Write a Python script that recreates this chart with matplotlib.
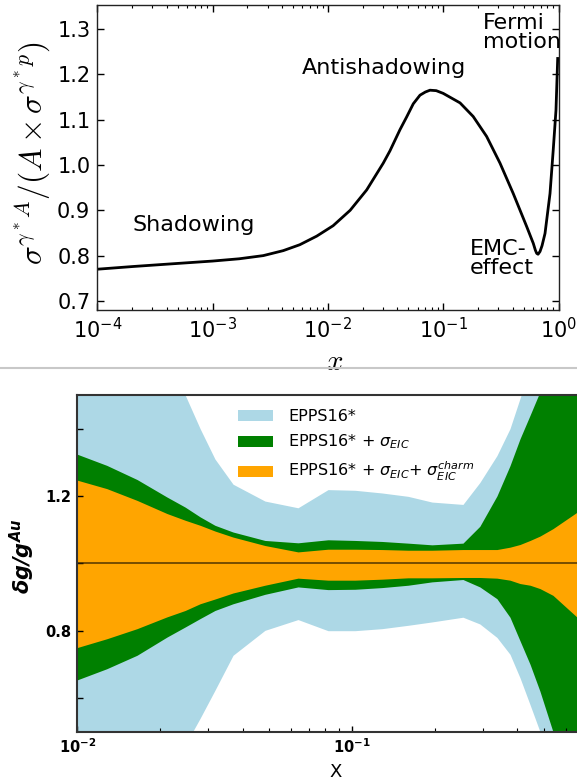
import matplotlib
matplotlib.use('Agg')
import matplotlib.pyplot as plt
from matplotlib.lines import Line2D

# ---------------- top panel data ----------------
x_ratio = [1e-4, 2.05e-4, 4.5e-4, 1e-3, 1.7e-3, 2.75e-3, 4.1e-3, 5.7e-3, 8.0e-3,
           0.0111, 0.0156, 0.0217, 0.0302, 0.0345, 0.0422, 0.0482, 0.055, 0.0629,
           0.070, 0.0768, 0.087, 0.100, 0.140, 0.182, 0.238, 0.311, 0.405, 0.530,
           0.6045, 0.630, 0.647, 0.665, 0.691, 0.720, 0.764, 0.844, 0.900, 0.951, 0.984]
ratio = [0.770, 0.776, 0.782, 0.788, 0.793, 0.800, 0.811, 0.824, 0.843,
         0.866, 0.900, 0.945, 1.004, 1.031, 1.078, 1.106, 1.135, 1.154,
         1.161, 1.165, 1.164, 1.158, 1.137, 1.107, 1.063, 1.004, 0.937, 0.864,
         0.827, 0.812, 0.805, 0.803, 0.809, 0.822, 0.849, 0.937, 1.033, 1.121, 1.235]
ratio_yticks = [0.7, 0.8, 0.9, 1.0, 1.1, 1.2, 1.3]

# ---------------- bottom panel data ----------------
x_band = [0.0100, 0.0128, 0.0165, 0.0212, 0.0247, 0.0280, 0.0317, 0.0369, 0.0482,
          0.0636, 0.0818, 0.1025, 0.1286, 0.160, 0.1955, 0.2535, 0.292, 0.337,
          0.376, 0.409, 0.445, 0.4835, 0.539, 0.66]
epps_hi = [1.9, 1.8, 1.7, 1.6, 1.50, 1.40, 1.31, 1.235, 1.185, 1.165, 1.219, 1.217,
           1.209, 1.199, 1.182, 1.175, 1.24, 1.32, 1.40, 1.49, 1.58, 1.66, 1.76, 1.95]
epps_lo = [0.10, 0.20, 0.30, 0.40, 0.46, 0.54, 0.623, 0.727, 0.801, 0.833, 0.80, 0.80,
           0.806, 0.816, 0.826, 0.840, 0.82, 0.78, 0.73, 0.66, 0.58, 0.50, 0.35, 0.10]
eic_hi = [1.324, 1.291, 1.249, 1.197, 1.167, 1.138, 1.113, 1.093, 1.068, 1.061, 1.070,
          1.068, 1.065, 1.060, 1.055, 1.060, 1.11, 1.20, 1.29, 1.37, 1.44, 1.51, 1.62, 1.80]
eic_lo = [0.654, 0.687, 0.727, 0.781, 0.811, 0.836, 0.860, 0.880, 0.908, 0.930, 0.922,
          0.923, 0.928, 0.935, 0.945, 0.952, 0.93, 0.895, 0.84, 0.77, 0.70, 0.62, 0.50, 0.30]
charm_hi = [1.247, 1.222, 1.187, 1.148, 1.128, 1.113, 1.096, 1.078, 1.053, 1.034, 1.042,
            1.042, 1.041, 1.039, 1.039, 1.041, 1.041, 1.041, 1.048, 1.056, 1.068, 1.081,
            1.103, 1.152]
charm_lo = [0.750, 0.776, 0.806, 0.841, 0.860, 0.880, 0.894, 0.912, 0.935, 0.956, 0.950,
            0.950, 0.953, 0.957, 0.957, 0.958, 0.958, 0.956, 0.950, 0.940, 0.935, 0.925,
            0.905, 0.840]
band_labels = ['EPPS16*',
               r'EPPS16* + $\sigma_{EIC}$',
               r'EPPS16* + $\sigma_{EIC}$+ $\sigma_{EIC}^{charm}$']
band_yticks = [0.6, 0.8, 1.0, 1.2, 1.4]
band_yticklabels = ['', '0.8', '', '1.2', '']

plt.rcParams['font.family'] = ['DejaVu Sans']
plt.rcParams['mathtext.fontset'] = 'dejavusans'

W, H = 577, 784
fig = plt.figure(figsize=(W / 100, H / 100), dpi=100)

# ---------------- top panel ----------------
l1, r1, t1, b1 = 97.3, 558.5, 5, 310
ax1 = fig.add_axes([l1 / W, 1 - b1 / H, (r1 - l1) / W, (b1 - t1) / H])
ax1.plot(x_ratio, ratio, color='black', lw=2.0, solid_joinstyle='round')
ax1.set_xscale('log')
ax1.set_xlim(1e-4, 1)
ax1.set_ylim(0.68, 1.353)
ax1.set_yticks(ratio_yticks)
ax1.set_yticklabels([f'{v:.1f}' for v in ratio_yticks])
ax1.tick_params(which='both', direction='in', top=True, right=True, labelsize=15, pad=5)
ax1.tick_params(which='major', length=5, width=1)
ax1.tick_params(which='minor', length=2.5, width=0.8)
for s in ax1.spines.values():
    s.set_linewidth(1.0)
    s.set_color('#222222')
ax1.set_ylabel(r'$\sigma^{\gamma^*A}/(A\times\sigma^{\gamma^*p})$', fontsize=22.5,
               math_fontfamily='cm')
ax1.yaxis.set_label_coords((52 - l1) / (r1 - l1), 1 - (153 - t1) / (b1 - t1))
ax1.set_xlabel(r'$x$', fontsize=21, math_fontfamily='cm')
ax1.xaxis.set_label_coords((335 - l1) / (r1 - l1), -(348 - b1) / (b1 - t1))

ax1.text(2.03e-4, 0.868, 'Shadowing', fontsize=16, va='center', ha='left')
ax1.text(5.96e-3, 1.214, 'Antishadowing', fontsize=16, va='center', ha='left')
ax1.text(0.221, 1.292, 'Fermi\nmotion', fontsize=16, va='center', ha='left',
         linespacing=0.95)
ax1.text(0.171, 0.793, 'EMC-\neffect', fontsize=16, va='center', ha='left',
         linespacing=0.95)

# separator line between the two panels
fig.add_artist(Line2D([0, 1], [1 - 368 / H, 1 - 368 / H], color='#c8c8c8', lw=1.5,
                      transform=fig.transFigure))

# ---------------- bottom panel ----------------
l2, t2, b2 = 77.3, 395, 731.7
w2 = 499.8
ax2 = fig.add_axes([l2 / W, 1 - b2 / H, w2 / W, (b2 - t2) / H])
ax2.fill_between(x_band, epps_lo, epps_hi, color='lightblue', lw=0, label=band_labels[0])
ax2.fill_between(x_band, eic_lo, eic_hi, color='green', lw=0, label=band_labels[1])
ax2.fill_between(x_band, charm_lo, charm_hi, color='orange', lw=0, label=band_labels[2])
ax2.axhline(1.0, color='#3a2600', alpha=0.75, lw=1.3)
ax2.set_xscale('log')
ax2.set_xlim(0.01, 0.66)
ax2.set_ylim(0.5, 1.5)
ax2.set_yticks(band_yticks)
ax2.set_yticklabels(band_yticklabels, fontweight='bold')
ax2.tick_params(which='both', direction='in', labelsize=10.5, pad=4)
ax2.tick_params(which='major', length=4, width=1)
ax2.tick_params(which='minor', length=3, width=0.8)
for lab in ax2.get_xticklabels():
    lab.set_fontweight('bold')
ax2.spines['right'].set_visible(False)
for s in ['left', 'bottom', 'top']:
    ax2.spines[s].set_linewidth(1.5)
    ax2.spines[s].set_color('#333333')
ax2.set_ylabel(r'δg/g$^{\mathdefault{Au}}$', fontsize=15, fontweight='bold',
               fontstyle='italic')
ax2.yaxis.set_label_coords((37 - l2) / w2, 1 - (556 - t2) / (b2 - t2))
ax2.set_xlabel('X', fontsize=13)
ax2.xaxis.set_label_coords((336 - l2) / w2, -(763 - b2) / (b2 - t2))

leg = ax2.legend(loc='upper left', bbox_to_anchor=((238 - l2) / w2, (b2 - 409) / (b2 - t2)),
                 frameon=False, fontsize=11.5, borderpad=0, handlelength=2.2,
                 handleheight=0.65, handletextpad=0.95, labelspacing=0.55,
                 borderaxespad=0)

fig.savefig('out.png', dpi=100)
